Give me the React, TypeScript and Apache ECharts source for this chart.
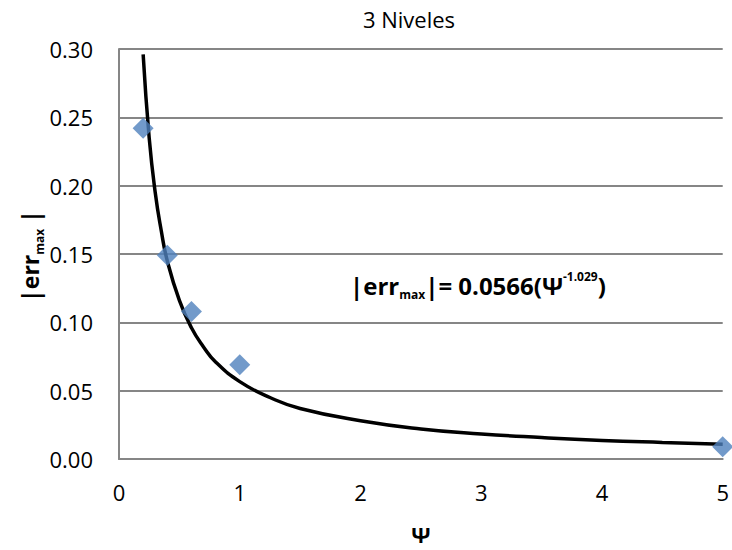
import React, { useEffect, useRef } from "react";
import * as echarts from "echarts";

const psiValues = [0.2, 0.4, 0.6, 1.0, 5.0];
const errValues = [0.242, 0.149, 0.108, 0.069, 0.009];

const trendPsi = [0.2, 0.25, 0.3, 0.35, 0.4, 0.5, 0.6, 0.7, 0.8, 1.0, 1.25, 1.5, 2.0, 2.5, 3.0, 3.5, 4.0, 4.5, 5.0];
const trendErr = [0.296, 0.235, 0.195, 0.167, 0.145, 0.116, 0.096, 0.082, 0.071, 0.0566, 0.045, 0.037, 0.028, 0.022, 0.0183, 0.0157, 0.0136, 0.0121, 0.0108];

const yTicks = [0, 0.05, 0.1, 0.15, 0.2, 0.25, 0.3];
const xTicks = [0, 1, 2, 3, 4, 5];

const FONT = "'Open Sans', 'Liberation Sans', sans-serif";

export default function App() {
  const ref = useRef<HTMLDivElement>(null);
  useEffect(() => {
    document.body.style.margin = "0";
    const chart = echarts.init(ref.current!, null, { renderer: "svg" });
    chart.setOption({
      animation: false,
      backgroundColor: "#ffffff",
      textStyle: { fontFamily: FONT },
      title: {
        text: "3 Niveles",
        left: 404,
        top: 3,
        textAlign: "center",
        textStyle: { fontFamily: FONT, fontSize: 22, fontWeight: "normal", color: "#000" },
      },
      grid: { left: 119, right: 7, top: 49, bottom: 87, containLabel: false },
      xAxis: {
        type: "value",
        min: xTicks[0],
        max: xTicks[xTicks.length - 1],
        interval: 1,
        name: "Ψ",
        nameLocation: "middle",
        nameGap: 64,
        nameTextStyle: { fontFamily: FONT, fontSize: 22, fontWeight: "bold", color: "#000" },
        axisLine: { show: true, lineStyle: { color: "#868686", width: 2 } },
        axisTick: { show: false },
        splitLine: { show: false },
        axisLabel: { fontFamily: FONT, fontSize: 22, color: "#000", margin: 22 },
      },
      yAxis: {
        type: "value",
        min: yTicks[0],
        max: yTicks[yTicks.length - 1],
        interval: 0.05,
        axisLine: { show: true, lineStyle: { color: "#868686", width: 2 } },
        axisTick: { show: false },
        splitLine: { show: true, lineStyle: { color: "#868686", width: 2 } },
        axisLabel: {
          fontFamily: FONT,
          fontSize: 22,
          color: "#000",
          margin: 26,
          formatter: (v: number) => v.toFixed(2),
        },
      },
      graphic: [
        {
          type: "text",
          x: 30,
          y: 256,
          rotation: Math.PI / 2,
          style: {
            text: "{b||err}{s|max}{b| |}",
            align: "center",
            verticalAlign: "middle",
            rich: {
              b: { fontFamily: FONT, fontSize: 23, fontWeight: "bold", fill: "#000", lineHeight: 30, verticalAlign: "middle" },
              s: { fontFamily: FONT, fontSize: 12, fontWeight: "bold", fill: "#000", lineHeight: 30, verticalAlign: "bottom", padding: [10, 0, 0, 0] },
            },
          },
        },
        {
          type: "text",
          x: 350,
          y: 285,
          style: {
            text: "{b||err}{s|max}{b||= 0.0566(Ψ}{p|-1.029}{b|)}",
            align: "left",
            verticalAlign: "middle",
            rich: {
              b: { fontFamily: FONT, fontSize: 24, fontWeight: "bold", fill: "#000", lineHeight: 30, verticalAlign: "middle" },
              s: { fontFamily: FONT, fontSize: 12, fontWeight: "bold", fill: "#000", lineHeight: 30, verticalAlign: "bottom", padding: [10, 0, 0, 0] },
              p: { fontFamily: FONT, fontSize: 12, fontWeight: "bold", fill: "#000", lineHeight: 30, verticalAlign: "top", padding: [0, 0, 10, 0] },
            },
          },
        },
      ],
      series: [
        {
          type: "line",
          data: trendPsi.map((x, i) => [x, trendErr[i]]),
          smooth: true,
          showSymbol: false,
          symbol: "none",
          lineStyle: { color: "#000", width: 3.5 },
          z: 2,
        },
        {
          type: "scatter",
          data: psiValues.map((x, i) => [x, errValues[i]]),
          symbol: "diamond",
          symbolSize: [21, 21],
          itemStyle: { color: "#4F81BD" },
          z: 3,
        },
      ],
    });
    return () => chart.dispose();
  }, []);
  return <div ref={ref} style={{ width: 732, height: 550 }} />;
}
